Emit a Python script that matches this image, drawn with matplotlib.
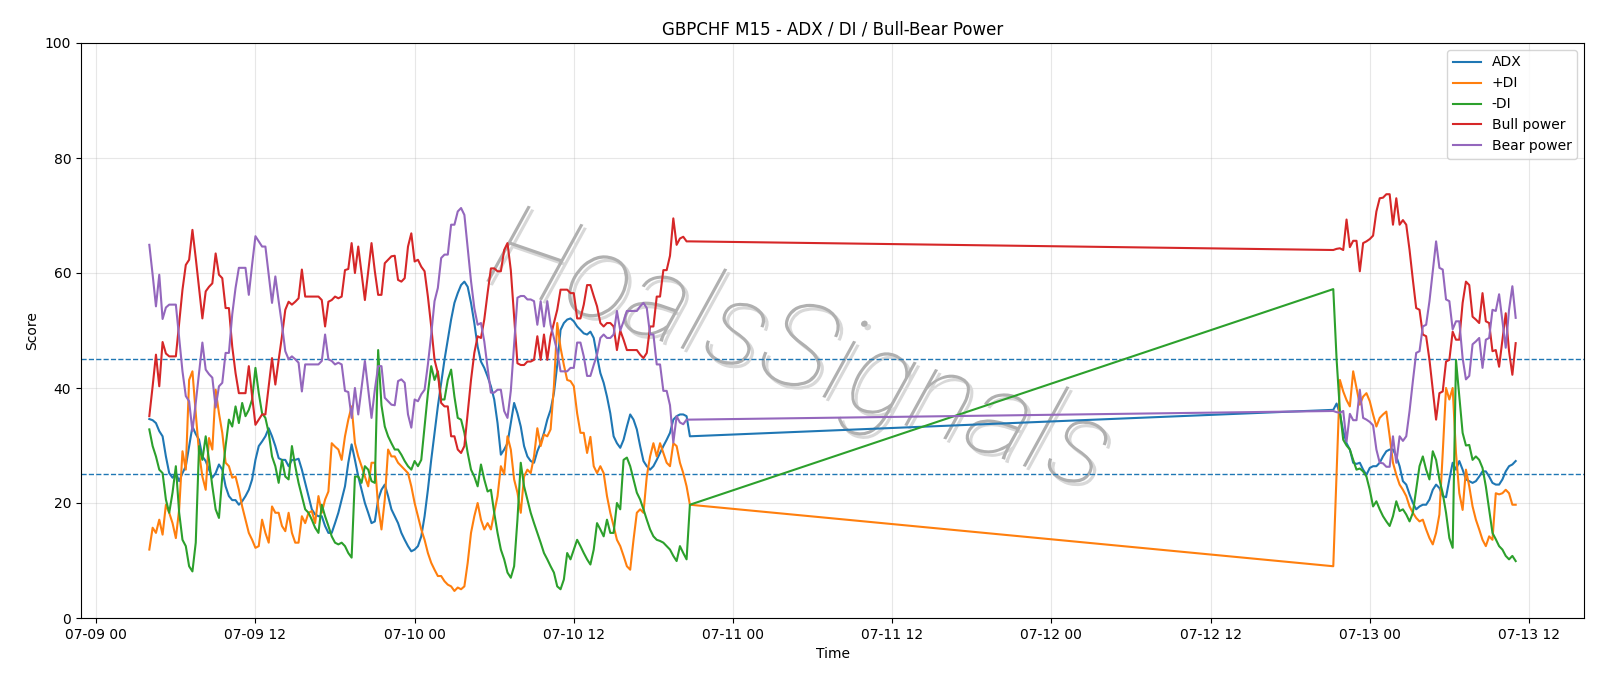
import numpy as np
import pandas as pd
import matplotlib
matplotlib.use("Agg")
import matplotlib.pyplot as plt
import matplotlib.dates as mdates
import matplotlib.patheffects as pe

# ---- time axis: two sessions of M15 bars ----
seg1_start, seg1_len = "2025-07-09 04:00", 164
seg2_start, seg2_len = "2025-07-12 21:15", 56

# ---- ADX ----
adx_1 = [34.6, 34.4, 33.9, 32.5, 31.6, 28.1, 25.2, 24.4, 25.2, 23.8,
         25.2, 26.4, 29.9, 33.3, 32.0, 31.0, 28.1, 27.3, 25.8, 24.4,
         25.2, 26.7, 25.8, 22.9, 21.2, 20.5, 20.5, 19.7, 20.3, 21.2,
         22.3, 24.1, 27.5, 29.9, 30.7, 31.6, 33.0, 31.6, 29.9, 27.8,
         27.5, 27.5, 26.4, 27.5, 27.5, 27.7, 25.8, 23.5, 21.2, 18.9,
         18.0, 17.7, 17.7, 16.0, 14.8, 14.8, 16.5, 18.3, 20.6, 22.9,
         27.0, 30.2, 27.5, 24.6, 22.3, 20.0, 18.3, 16.5, 16.8, 20.6,
         22.3, 23.2, 21.2, 18.9, 17.7, 16.5, 14.8, 13.6, 12.5, 11.6,
         11.9, 12.5, 14.2, 17.7, 22.3, 27.5, 32.2, 36.8, 40.9, 44.9,
         48.4, 51.9, 54.8, 56.5, 57.9, 58.5, 57.6, 54.8, 51.3, 47.2,
         44.6, 43.5, 42.0, 40.3, 38.0, 33.9, 28.4, 29.3, 30.4, 33.9,
         37.4, 35.6, 33.3, 29.9, 28.1, 27.3, 27.0, 29.0, 30.4, 32.2,
         34.5, 36.2, 39.1, 44.0, 50.1, 51.3, 51.9, 52.1, 51.6, 50.7,
         50.1, 49.5, 49.3, 49.8, 48.7, 45.5, 42.6, 40.9, 38.5, 35.6,
         31.6, 30.4, 29.6, 31.0, 33.3, 35.4, 34.5, 32.8, 29.9, 27.3,
         26.4, 25.8, 26.4, 27.5, 28.7, 29.9, 31.0, 32.2, 34.5, 35.1,
         35.4, 35.4, 35.1, 31.6]
adx_2 = [36.2, 37.3, 35.5, 32.5, 30.4, 29.3, 27.0, 26.8, 27.0, 25.8,
         24.9, 26.1, 26.4, 26.4, 27.0, 28.1, 29.0, 29.3, 29.3, 28.1,
         26.4, 23.8, 23.2, 21.5, 20.0, 18.9, 19.4, 19.7, 19.7, 20.6,
         22.3, 23.2, 22.6, 21.2, 21.0, 24.1, 27.0, 25.8, 27.3, 25.8,
         24.1, 23.8, 23.5, 23.8, 24.6, 25.5, 25.5, 24.6, 23.5, 23.2,
         23.2, 24.1, 25.5, 26.4, 26.7, 27.3]

# ---- +DI ----
pdi_1 = [11.9, 15.7, 14.8, 17.1, 14.5, 19.7, 18.3, 16.5, 13.9, 18.9,
         29.0, 25.8, 41.4, 42.9, 35.6, 28.7, 24.6, 22.3, 31.3, 29.3,
         39.7, 35.6, 32.2, 27.0, 26.4, 24.4, 24.6, 22.3, 19.4, 17.1,
         14.8, 13.6, 12.2, 12.5, 17.1, 14.8, 13.1, 19.4, 18.3, 18.3,
         16.0, 15.1, 18.3, 14.8, 13.1, 13.1, 17.7, 16.5, 18.3, 18.6,
         16.5, 21.2, 18.3, 20.6, 22.0, 30.4, 29.8, 29.3, 27.5, 31.6,
         34.5, 36.8, 30.4, 28.1, 26.4, 24.6, 22.9, 27.0, 27.0, 19.4,
         15.4, 20.6, 29.3, 28.1, 28.1, 27.0, 26.4, 25.8, 25.2, 22.9,
         20.0, 17.7, 15.4, 13.6, 11.3, 9.6, 8.4, 7.3, 7.3, 6.4,
         5.8, 5.5, 4.7, 5.3, 5.0, 5.5, 9.6, 14.8, 17.7, 20.0,
         17.1, 15.4, 16.5, 15.4, 18.3, 21.2, 26.4, 25.0, 31.6, 29.3,
         24.1, 21.8, 18.3, 24.6, 25.8, 25.2, 28.1, 33.0, 29.9, 31.9,
         31.6, 32.8, 40.3, 51.3, 47.0, 44.0, 41.4, 41.2, 40.3, 35.6,
         32.2, 32.2, 28.7, 31.5, 26.4, 25.2, 26.4, 25.2, 21.2, 18.3,
         16.0, 13.6, 12.5, 10.8, 9.0, 8.4, 13.6, 18.3, 18.9, 18.3,
         24.6, 28.1, 30.4, 28.1, 30.4, 28.7, 27.0, 26.4, 30.4, 29.9,
         27.0, 25.2, 22.9, 19.7]
pdi_2 = [9.0, 25.0, 41.4, 39.4, 37.9, 36.8, 42.9, 40.0, 37.1, 38.5,
         39.1, 37.7, 35.4, 33.3, 34.8, 35.4, 35.9, 31.6, 27.0, 24.9,
         23.2, 22.3, 21.2, 19.4, 18.3, 17.4, 16.8, 17.1, 15.4, 13.9,
         12.8, 14.8, 18.0, 28.7, 40.0, 38.0, 40.0, 28.7, 21.7, 18.8,
         25.8, 22.9, 19.4, 17.1, 15.4, 13.6, 12.5, 14.2, 13.6, 21.7,
         21.5, 21.7, 22.3, 21.7, 19.7, 19.7]

# ---- -DI ----
mdi_1 = [32.8, 29.9, 28.1, 25.8, 25.2, 20.6, 18.3, 21.8, 26.4, 18.3,
         13.6, 12.5, 9.0, 8.1, 13.1, 29.9, 27.5, 31.6, 27.5, 22.9,
         18.9, 17.4, 24.6, 29.9, 34.5, 33.3, 36.8, 33.9, 37.4, 35.1,
         36.2, 38.0, 43.5, 39.1, 35.6, 34.8, 32.2, 28.1, 26.4, 23.5,
         27.5, 24.6, 24.1, 29.9, 26.4, 23.5, 21.2, 18.9, 18.3, 17.1,
         15.7, 14.8, 19.7, 17.7, 16.0, 14.2, 13.1, 12.8, 13.1, 12.5,
         11.3, 10.5, 24.6, 24.6, 23.5, 26.4, 25.8, 23.8, 23.5, 46.6,
         37.0, 33.3, 31.6, 30.4, 29.3, 29.3, 28.4, 27.3, 26.4, 25.8,
         27.3, 26.4, 27.5, 33.3, 39.1, 43.8, 41.4, 42.9, 38.0, 38.0,
         41.4, 43.2, 38.5, 34.8, 34.5, 32.2, 28.7, 25.8, 24.6, 22.9,
         26.7, 24.1, 22.0, 22.3, 18.3, 14.8, 11.9, 10.2, 7.9, 7.0,
         9.0, 17.1, 27.0, 22.9, 20.6, 18.3, 16.5, 14.8, 13.1, 11.3,
         10.2, 9.0, 7.9, 5.5, 5.0, 6.7, 11.3, 10.2, 11.9, 13.6,
         12.5, 11.3, 10.2, 9.3, 11.9, 16.5, 15.4, 14.2, 17.1, 14.8,
         14.8, 20.0, 18.9, 27.5, 27.9, 26.4, 24.1, 21.8, 20.6, 18.9,
         17.1, 15.4, 14.2, 13.6, 13.4, 13.1, 12.5, 11.9, 10.8, 9.9,
         12.5, 11.3, 10.2, 19.7]
mdi_2 = [57.2, 45.0, 36.0, 31.0, 30.0, 29.3, 27.5, 25.8, 26.0, 25.5,
         24.6, 22.3, 19.4, 20.3, 18.9, 17.7, 16.8, 16.0, 17.7, 20.3,
         18.6, 18.9, 18.0, 16.8, 18.3, 22.3, 26.4, 28.1, 25.8, 24.1,
         29.0, 27.5, 24.1, 21.7, 18.3, 13.9, 12.2, 44.9, 38.5, 32.2,
         30.0, 30.1, 27.5, 28.1, 27.5, 26.1, 22.9, 18.9, 14.8, 13.7,
         12.5, 11.9, 10.8, 10.2, 10.8, 9.9]

# ---- Bull power ----
bull_1 = [35.1, 40.3, 45.8, 40.3, 48.0, 46.0, 45.5, 45.5, 45.5, 51.3,
          57.1, 61.4, 62.3, 67.5, 62.6, 57.4, 52.1, 56.8, 57.6, 58.2,
          63.4, 59.7, 59.1, 53.9, 53.9, 47.2, 42.6, 39.1, 39.1, 39.1,
          43.8, 38.5, 33.6, 34.5, 35.4, 35.4, 40.3, 45.2, 40.6, 44.9,
          49.0, 53.6, 55.0, 54.5, 55.0, 55.6, 60.6, 55.9, 55.9, 55.9,
          55.9, 55.9, 55.3, 50.7, 55.0, 55.3, 55.9, 55.6, 55.9, 60.5,
          60.7, 65.2, 60.0, 64.6, 60.0, 55.3, 60.3, 65.2, 60.3, 56.2,
          56.2, 61.7, 62.3, 62.9, 63.0, 58.8, 58.5, 59.1, 64.6, 66.9,
          62.0, 62.3, 61.1, 60.3, 55.9, 50.7, 44.9, 42.6, 37.4, 36.8,
          36.8, 31.6, 31.6, 29.3, 28.7, 29.9, 35.6, 41.4, 46.1, 49.0,
          48.7, 51.9, 56.5, 60.8, 60.8, 60.3, 60.3, 64.0, 65.2, 60.5,
          52.5, 44.3, 44.0, 44.0, 44.6, 44.6, 44.9, 49.0, 44.9, 49.3,
          44.9, 49.0, 51.3, 53.6, 57.1, 57.1, 57.1, 56.5, 56.5, 52.1,
          52.1, 54.5, 57.9, 57.9, 56.0, 54.2, 51.3, 50.7, 51.3, 51.3,
          50.7, 46.6, 50.0, 48.4, 46.6, 46.6, 46.6, 46.6, 45.8, 45.2,
          46.1, 50.7, 50.7, 55.9, 55.9, 60.5, 60.5, 63.0, 69.5, 64.9,
          66.0, 66.3, 65.5, 65.5]
bull_2 = [64.0, 64.2, 64.3, 64.0, 69.3, 64.5, 65.6, 65.6, 60.3, 65.2,
          65.5, 65.9, 66.5, 70.7, 73.0, 73.1, 73.7, 73.7, 68.4, 73.0,
          68.4, 69.2, 68.4, 64.0, 58.8, 53.9, 53.6, 49.3, 49.0, 44.9,
          39.7, 34.5, 39.1, 39.4, 44.6, 44.9, 49.8, 48.4, 48.4, 54.8,
          58.5, 57.9, 52.4, 51.9, 51.3, 56.5, 51.6, 51.3, 46.4, 46.6,
          43.7, 48.4, 53.0, 46.4, 42.3, 47.8]

# ---- Bear power ----
bear_1 = [64.9, 59.7, 54.2, 59.7, 52.0, 54.0, 54.5, 54.5, 54.5, 48.7,
          42.9, 38.6, 37.7, 32.5, 37.4, 42.6, 47.9, 43.2, 42.4, 41.8,
          36.6, 40.3, 40.9, 46.1, 46.1, 52.8, 57.4, 60.9, 60.9, 60.9,
          56.2, 61.5, 66.4, 65.5, 64.6, 64.6, 59.7, 54.8, 59.4, 55.1,
          51.0, 46.4, 45.0, 45.5, 45.0, 44.4, 39.4, 44.1, 44.1, 44.1,
          44.1, 44.1, 44.7, 49.3, 45.0, 44.7, 44.1, 44.4, 44.1, 39.5,
          39.3, 34.8, 40.0, 35.4, 40.0, 44.7, 39.7, 34.8, 39.7, 43.8,
          43.8, 38.3, 37.7, 37.1, 37.0, 41.2, 41.5, 40.9, 35.4, 33.1,
          38.0, 37.7, 38.9, 39.7, 44.1, 49.3, 55.1, 57.4, 62.6, 63.2,
          63.2, 68.4, 68.4, 70.7, 71.3, 70.1, 64.4, 58.6, 53.9, 51.0,
          51.3, 48.1, 43.5, 39.2, 39.2, 39.7, 39.7, 36.0, 34.8, 39.5,
          47.5, 55.7, 56.0, 56.0, 55.4, 55.4, 55.1, 51.0, 55.1, 50.7,
          55.1, 51.0, 48.7, 46.4, 42.9, 42.9, 42.9, 43.5, 43.5, 47.9,
          47.9, 45.5, 42.1, 42.1, 44.0, 45.8, 48.7, 49.3, 48.7, 48.7,
          49.3, 53.4, 50.0, 51.6, 53.4, 53.4, 53.4, 53.4, 54.2, 54.8,
          53.9, 49.3, 49.3, 44.1, 44.1, 39.5, 39.5, 37.0, 30.5, 35.1,
          34.0, 33.7, 34.5, 34.5]
bear_2 = [36.0, 35.8, 35.7, 36.0, 30.7, 35.5, 34.4, 34.4, 39.7, 34.8,
          34.5, 34.1, 33.5, 29.3, 27.0, 26.9, 26.3, 26.3, 31.6, 27.0,
          31.6, 30.8, 31.6, 36.0, 41.2, 46.1, 46.4, 50.7, 51.0, 55.1,
          60.3, 65.5, 60.9, 60.6, 55.4, 55.1, 50.2, 51.6, 51.6, 45.2,
          41.5, 42.1, 47.6, 48.1, 48.7, 43.5, 48.4, 48.7, 53.6, 53.4,
          56.3, 51.6, 47.0, 53.6, 57.7, 52.2]

levels = [45, 25]
title = "GBPCHF M15 - ADX / DI / Bull-Bear Power"
watermark = "HoalsSignals"

# ---- assemble ----
times = pd.date_range(seg1_start, periods=seg1_len, freq="15min").append(
    pd.date_range(seg2_start, periods=seg2_len, freq="15min"))
series = [("ADX", adx_1 + adx_2), ("+DI", pdi_1 + pdi_2), ("-DI", mdi_1 + mdi_2),
          ("Bull power", bull_1 + bull_2), ("Bear power", bear_1 + bear_2)]

fig = plt.figure(figsize=(16, 6.86), dpi=100)
ax = fig.add_axes([81 / 1600, 68 / 686, 1503 / 1600, 575 / 686])

for name, vals in series:
    ax.plot(times, vals, label=name, lw=1.5, zorder=3)

for lv in levels:
    ax.axhline(lv, ls="--", color="C0", lw=1.0, zorder=2.5)

ax.set_ylim(0, 100)
ax.set_title(title, fontsize=12)
ax.set_xlabel("Time")
ax.set_ylabel("Score")
ax.xaxis.set_major_locator(mdates.HourLocator(byhour=[0, 12]))
ax.xaxis.set_major_formatter(mdates.DateFormatter("%m-%d %H"))
ax.grid(True, alpha=0.3)
ax.set_axisbelow(True)
ax.legend(loc="upper right")

ax.text(0.4777, 0.4574, watermark, transform=ax.transAxes, rotation=-19,
        fontsize=86, fontfamily="Roboto", fontweight=100, fontstyle="italic",
        color="#b0b0b0", ha="center", va="center", zorder=1,
        path_effects=[pe.SimplePatchShadow(offset=(2.5, -2.5), shadow_rgbFace="#d8d8d8", alpha=1.0),
                      pe.Normal()])

fig.savefig("out.png", dpi=100)
